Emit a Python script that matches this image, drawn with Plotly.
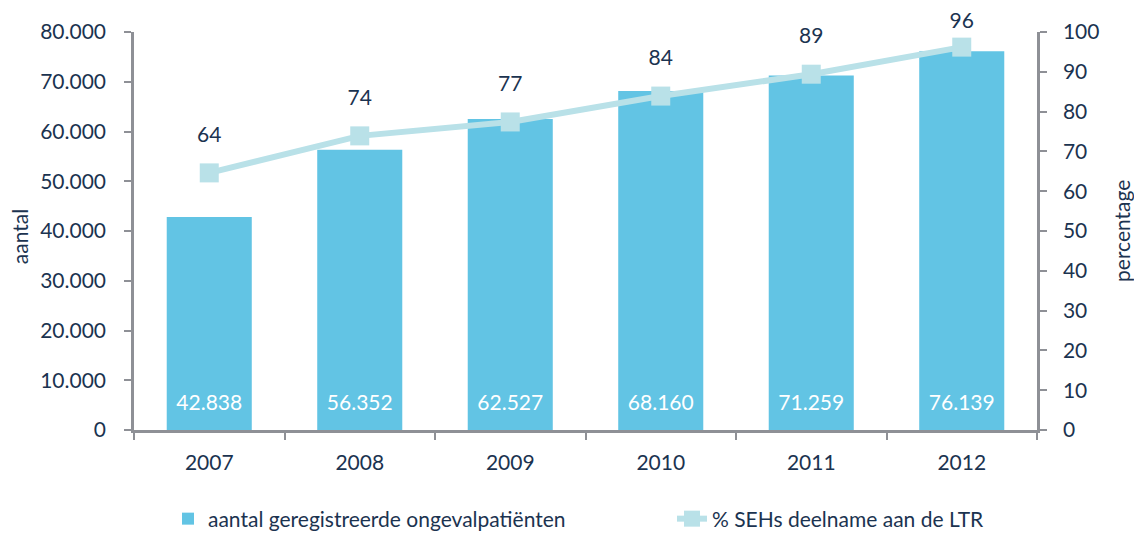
import plotly.graph_objects as go

years = ["2007", "2008", "2009", "2010", "2011", "2012"]
patients = [42838, 56352, 62527, 68160, 71259, 76139]
pct_seh = [64.6, 73.9, 77.4, 83.9, 89.4, 96.2]
pct_labels = ["64", "74", "77", "84", "89", "96"]
patient_labels = ["42.838", "56.352", "62.527", "68.160", "71.259", "76.139"]
left_ticks = [0, 10000, 20000, 30000, 40000, 50000, 60000, 70000, 80000]
left_tick_text = ["0", "10.000", "20.000", "30.000", "40.000", "50.000", "60.000", "70.000", "80.000"]
right_ticks = [0, 10, 20, 30, 40, 50, 60, 70, 80, 90, 100]

TEXT = "#1b3350"
AXIS = "#8e9096"
BAR = "#62c4e4"
LINE = "#b9e1e8"
FONT = "Lato"
FS = 21

# the page body keeps its default 8px margin, so the figure is 8px smaller
# and every position below is given relative to that offset
W, H = 1134, 525

fig = go.Figure()

fig.add_trace(go.Bar(
    x=years, y=patients, name="aantal geregistreerde ongevalpatiënten",
    marker=dict(color=BAR, line=dict(width=0)),
    width=0.565, legend="legend",
))

# white value labels near the foot of each bar
fig.add_trace(go.Scatter(
    x=years, y=[0] * len(years), mode="markers+text",
    marker=dict(size=22, opacity=0), text=patient_labels,
    textposition="top center", textfont=dict(size=FS, color="white", family=FONT),
    showlegend=False, hoverinfo="skip", cliponaxis=False,
))

fig.add_trace(go.Scatter(
    x=years, y=pct_seh, name="% SEHs deelname aan de LTR", yaxis="y2",
    mode="lines+markers",
    line=dict(color=LINE, width=6),
    marker=dict(symbol="square", size=19, color=LINE),
    legend="legend2",
))

# percentage labels: invisible big markers push the text up above the line
# (the last one sits a little closer, as in the original, so it stays on the page)
fig.add_trace(go.Scatter(
    x=years, y=pct_seh, yaxis="y2", mode="markers+text",
    marker=dict(size=[40, 40, 40, 40, 40, 21], opacity=0), text=pct_labels,
    textposition="top center", textfont=dict(size=FS, color=TEXT, family=FONT),
    showlegend=False, hoverinfo="skip", cliponaxis=False,
))

axis_common = dict(
    showline=True, linecolor=AXIS, linewidth=2.5, ticks="outside",
    ticklen=7, tickcolor=AXIS, tickwidth=2, showgrid=False, zeroline=False,
    tickfont=dict(size=FS), automargin=False,
)

legend_common = dict(orientation="h", xref="container", yref="container",
                     y=14 / H, xanchor="left", yanchor="middle",
                     bgcolor="rgba(0,0,0,0)", font=dict(size=FS, color=TEXT))

fig.update_layout(
    width=W, height=H,
    plot_bgcolor="white", paper_bgcolor="white",
    margin=dict(l=126, r=105, t=24, b=103),
    font=dict(family=FONT, size=FS, color=TEXT),
    showlegend=True,
    legend=dict(x=160 / W, **legend_common),
    legend2=dict(x=664 / W, **legend_common),
    xaxis=dict(type="category", tickson="boundaries", ticklabelstandoff=12,
               **axis_common),
    yaxis=dict(range=[0, 80000], tickvals=left_ticks, ticktext=left_tick_text,
               ticklabelstandoff=14, **axis_common),
    yaxis2=dict(overlaying="y", side="right", range=[0, 100], tickvals=right_ticks,
                ticklabelstandoff=12, **axis_common),
)

# axis titles as annotations so they sit where the reference has them
fig.add_annotation(text="aantal", xref="paper", yref="paper", x=-0.126, y=0.485,
                   xanchor="center", yanchor="middle", textangle=-90,
                   showarrow=False, font=dict(size=FS, color=TEXT))
fig.add_annotation(text="percentage", xref="paper", yref="paper", x=1.093, y=0.5,
                   xanchor="center", yanchor="middle", textangle=-90,
                   showarrow=False, font=dict(size=FS, color=TEXT))

fig.write_html("out.html")
